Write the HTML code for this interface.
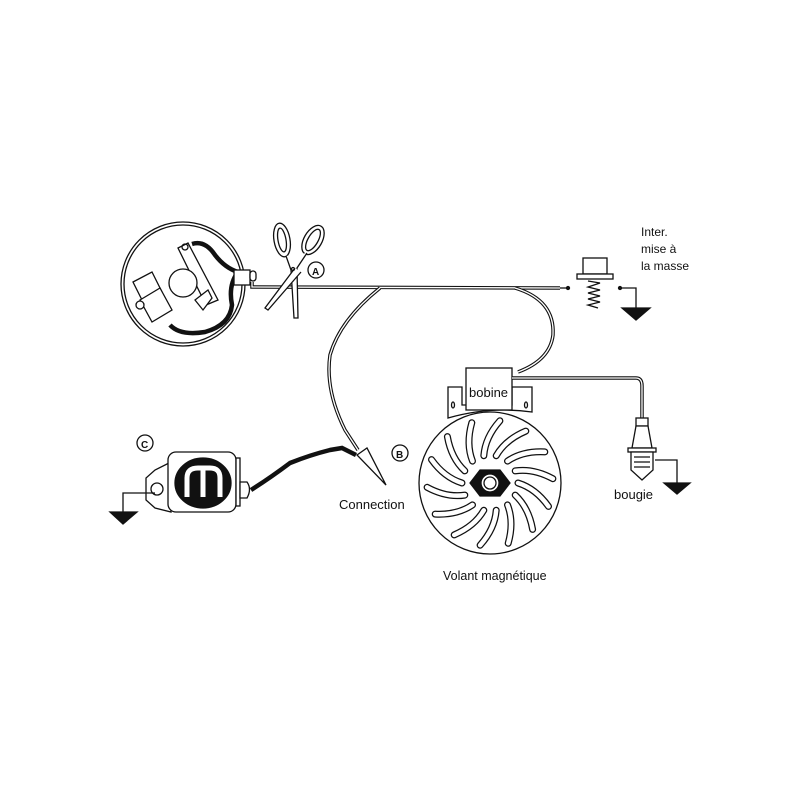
<!DOCTYPE html>
<html><head><meta charset="utf-8"><style>
html,body{margin:0;padding:0;background:#fff}
svg{display:block}
text{font-family:"Liberation Sans",sans-serif;fill:#111}
</style></head><body>
<svg width="800" height="800" viewBox="0 0 800 800" xmlns="http://www.w3.org/2000/svg">
<g fill="none" stroke="#111" stroke-width="1.3">
<circle cx="183" cy="284" r="62"/>
<circle cx="183" cy="284" r="59"/>
<path d="M192 244 Q205 240 215 255 Q225 268 238 272 Q228 285 232 305 Q230 325 205 332 Q180 336 170 325" stroke-width="4.5"/>
<path d="M178 248 L188 243 L218 300 L206 305 Z" fill="#fff"/>
<circle cx="185" cy="247" r="3"/>
<path d="M195 300 L208 290 L212 298 L203 310 Z" fill="#fff"/>
<circle cx="183" cy="283" r="14" fill="#fff"/>
<path d="M133 282 L152 272 L162 292 L143 302 Z" fill="#fff"/>
<path d="M140 300 L160 288 L172 310 L152 322 Z" fill="#fff"/>
<circle cx="140" cy="305" r="4" fill="#fff"/>
<rect x="234" y="270" width="16" height="15" fill="#fff"/>
<rect x="250" y="271" width="6" height="10" rx="3" fill="#fff"/>
<path d="M252 282 L252 287 L560 288" stroke-width="3.5"/>
<path d="M252 282 L252 287 L560 288" stroke="#fff" stroke-width="1.3"/>
<path d="M380 288 Q340 320 330 355 Q325 390 345 430 L358 450" stroke-width="3.5"/>
<path d="M380 288 Q340 320 330 355 Q325 390 345 430 L358 450" stroke="#fff" stroke-width="1.3"/>
<path d="M515 288 Q555 300 553 335 Q550 360 518 372" stroke-width="3.5"/>
<path d="M515 288 Q555 300 553 335 Q550 360 518 372" stroke="#fff" stroke-width="1.3"/>
<line x1="560" y1="288" x2="568" y2="288"/>
<circle cx="568" cy="288" r="1.5" fill="#111"/>
<ellipse cx="282" cy="240" rx="8" ry="17" transform="rotate(-10 282 240)"/>
<ellipse cx="282" cy="240" rx="4" ry="12" transform="rotate(-10 282 240)"/>
<ellipse cx="313" cy="240" rx="9" ry="16" transform="rotate(30 313 240)"/>
<ellipse cx="313" cy="240" rx="5" ry="12" transform="rotate(30 313 240)"/>
<path d="M286 256 L291 270 L294 318 L298 318 L297 268 L307 253" fill="#fff"/>
<path d="M295 268 L265 308 L268 310 L301 272" fill="#fff"/>
<circle cx="293" cy="269" r="1.5"/>
<circle cx="316" cy="270" r="8"/>
<rect x="583" y="258" width="24" height="16" fill="#fff"/>
<rect x="577" y="274" width="36" height="5" fill="#fff"/>
<path d="M588 281 L600 283 L588 287 L600 290 L588 293 L600 296 L588 299 L600 302 L588 305 L598 308"/>
<circle cx="620" cy="288" r="1.5" fill="#111"/>
<path d="M620 288 L636 288 L636 308"/>
<path d="M622 308 L650 308 L636 320 Z" fill="#111"/>
<path d="M448 387 L462 387 L462 405 L512 405 L512 387 L532 387 L532 412 Q490 406 448 418 Z" fill="#fff"/>
<rect x="466" y="368" width="46" height="42" fill="#fff"/>
<ellipse cx="453" cy="405" rx="1.5" ry="3"/>
<ellipse cx="526" cy="405" rx="1.5" ry="3"/>
<path d="M512 378 L636 378 Q642 378 642 386 L642 420" stroke-width="3.5"/>
<path d="M512 378 L636 378 Q642 378 642 386 L642 420" stroke="#fff" stroke-width="1.3"/>
<rect x="636" y="418" width="12" height="8" fill="#fff"/>
<path d="M636 426 L648 426 L652 448 L632 448 Z" fill="#fff"/>
<rect x="628" y="448" width="28" height="4" fill="#fff"/>
<path d="M631 452 L653 452 L653 470 L642 480 L631 470 Z" fill="#fff"/>
<path d="M634 457 H650 M634 462 H650 M634 467 H650"/>
<path d="M655 460 L677 460 L677 483"/>
<path d="M664 483 L690 483 L677 494 Z" fill="#111"/>
<circle cx="490" cy="483" r="71" fill="#fff"/>
<g stroke-width="7" stroke-linecap="round">
<path d="M518 483 Q535.7 488.5 548.5 506.4"/>
<path d="M515.2 495.1 Q528.8 507.8 532.6 529.4"/>
<path d="M507.5 504.9 Q514.2 522.1 508.2 543.3"/>
<path d="M496.2 510.3 Q494.8 528.7 480.1 545.2"/>
<path d="M483.8 510.3 Q474.5 526.3 454.2 534.9"/>
<path d="M472.5 504.9 Q457.2 515.2 435.2 514.1"/>
<path d="M464.8 495.1 Q446.5 497.8 427.1 487.3"/>
<path d="M462 483 Q444.3 477.5 431.5 459.6"/>
<path d="M464.8 470.9 Q451.2 458.2 447.4 436.6"/>
<path d="M472.5 461.1 Q465.8 443.9 471.8 422.7"/>
<path d="M483.8 455.7 Q485.2 437.3 499.9 420.8"/>
<path d="M496.2 455.7 Q505.5 439.7 525.8 431.1"/>
<path d="M507.5 461.1 Q522.8 450.8 544.8 451.9"/>
<path d="M515.2 470.9 Q533.5 468.2 552.9 478.7"/>
</g>
<g stroke="#fff" stroke-width="4.5" stroke-linecap="round">
<path d="M518 483 Q535.7 488.5 548.5 506.4"/>
<path d="M515.2 495.1 Q528.8 507.8 532.6 529.4"/>
<path d="M507.5 504.9 Q514.2 522.1 508.2 543.3"/>
<path d="M496.2 510.3 Q494.8 528.7 480.1 545.2"/>
<path d="M483.8 510.3 Q474.5 526.3 454.2 534.9"/>
<path d="M472.5 504.9 Q457.2 515.2 435.2 514.1"/>
<path d="M464.8 495.1 Q446.5 497.8 427.1 487.3"/>
<path d="M462 483 Q444.3 477.5 431.5 459.6"/>
<path d="M464.8 470.9 Q451.2 458.2 447.4 436.6"/>
<path d="M472.5 461.1 Q465.8 443.9 471.8 422.7"/>
<path d="M483.8 455.7 Q485.2 437.3 499.9 420.8"/>
<path d="M496.2 455.7 Q505.5 439.7 525.8 431.1"/>
<path d="M507.5 461.1 Q522.8 450.8 544.8 451.9"/>
<path d="M515.2 470.9 Q533.5 468.2 552.9 478.7"/>
</g>
<polygon points="480,470 500,470 510,483 500,496 480,496 470,483" fill="#111"/>
<circle cx="490" cy="483" r="9" fill="#fff"/>
<circle cx="490" cy="483" r="6" fill="#fff"/>
<path d="M171 462 L155 470 L146 478 L146 500 L155 508 L171 512 Z" fill="#fff"/>
<circle cx="157" cy="489" r="6" fill="#fff"/>
<rect x="168" y="452" width="68" height="60" rx="8" fill="#fff"/>
<rect x="236" y="458" width="4" height="48" fill="#fff"/>
<path d="M240 482 L247 482 Q252 489 247 498 L240 498 Z" fill="#fff"/>
<ellipse cx="203" cy="483" rx="28" ry="25" fill="#111"/>
<path d="M187 497 L187 478 Q187 468 198 468 L210 468 Q220 468 220 478 L220 497 M203 470 L203 497" stroke="#fff" stroke-width="5" stroke-linecap="butt"/>
<path d="M251 490 Q270 478 290 463 Q310 455 330 450 L342 448 L356 455" stroke-width="4.5"/>
<path d="M155 493 L123 493 L123 512"/>
<path d="M110 512 L137 512 L123 524 Z" fill="#111"/>
<circle cx="145" cy="443" r="8"/>
<path d="M357 455 L367 448 L386 485 Z" fill="#fff"/>
<circle cx="400" cy="453" r="8"/>
</g>
<g font-size="12">
<text x="641" y="236">Inter.</text>
<text x="641" y="253">mise à</text>
<text x="641" y="270">la masse</text>
<text x="469" y="397" font-size="13">bobine</text>
<text x="614" y="499" font-size="13">bougie</text>
<text x="339" y="509" font-size="13">Connection</text>
<text x="443" y="580" font-size="12.5">Volant magnétique</text>
<text x="312" y="275" font-size="10" font-weight="bold">A</text>
<text x="396" y="458" font-size="10" font-weight="bold">B</text>
<text x="141" y="448" font-size="10" font-weight="bold">C</text>
</g>
</svg>
</body></html>
